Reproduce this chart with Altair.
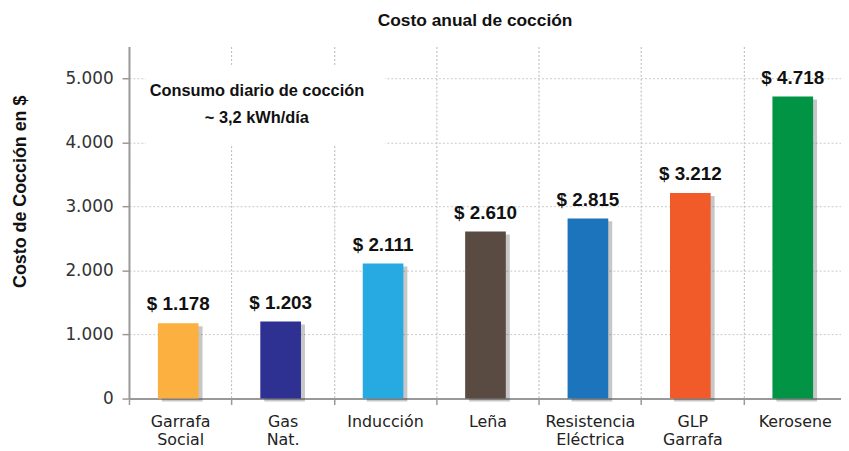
import altair as alt
import pandas as pd

categories = ["Garrafa|Social", "Gas|Nat.", "Inducción", "Leña", "Resistencia|Eléctrica", "GLP|Garrafa", "Kerosene"]
values = [1178, 1203, 2111, 2610, 2815, 3212, 4718]
colors = ["#FBB040", "#2E3192", "#27AAE1", "#594A42", "#1C75BC", "#F15A29", "#009444"]
y_ticks = [0, 1000, 2000, 3000, 4000, 5000]
note_lines = ["Consumo diario de cocción", "~ 3,2 kWh/día"]
note_y = [4800, 4380]

df = pd.DataFrame({"cat": categories, "val": values, "color": colors})
note_df = pd.DataFrame({"t": note_lines, "y": note_y})

BOLD = "Liberation Sans, Arial, sans-serif"
SANS = "DejaVu Sans, sans-serif"

x_enc = alt.X(
    "cat:N", sort=categories, title=None,
    scale=alt.Scale(paddingInner=0, paddingOuter=0, range=[0, 723]),
    axis=alt.Axis(
        labelExpr="split(datum.label, '|')", labelAngle=0, labelFont=SANS, labelFontSize=16,
        labelColor="#222", labelPadding=9, labelLineHeight=18,
        tickBand="extent", ticks=True, tickSize=6, tickColor="#999", tickWidth=1.5,
        grid=True, gridDash=[2, 2], gridColor="#b5b5b5", gridWidth=1,
        domainColor="#999", domainWidth=2,
    ),
)
y_scale = alt.Scale(domain=[0, 5500], nice=False)
y_enc = alt.Y(
    "val:Q", scale=y_scale, title="Costo de Cocción en $",
    axis=alt.Axis(
        values=y_ticks, labelExpr="replace(format(datum.value, ','), ',', '.')",
        labelFont=SANS, labelFontSize=17, labelColor="#333", labelPadding=9,
        tickSize=7, tickColor="#999", tickWidth=1.5,
        grid=True, gridDash=[2, 2], gridColor="#c8c8c8", gridWidth=1,
        domainColor="#999", domainWidth=2,
        titleFont=BOLD, titleFontSize=18, titleFontWeight="bold", titleColor="#111",
        titleX=-109, titleY=146, titleAngle=-90, titleAlign="center", titleBaseline="middle",
    ),
)

box = alt.Chart(pd.DataFrame({"a": [0]})).mark_rect(color="white").encode(
    x=alt.value(17), x2=alt.value(258),
    y=alt.datum(5190, scale=y_scale), y2=alt.datum(3975),
)

shadow = alt.Chart(df).mark_bar(size=41, color="#444", opacity=0.3, xOffset=2, yOffset=3).encode(
    x=x_enc, y=y_enc
)

bars = alt.Chart(df).mark_bar(size=41, xOffset=-2).encode(
    x=x_enc, y=y_enc, color=alt.Color("color:N", scale=None)
)

labels = alt.Chart(df).transform_calculate(
    lab="'$ ' + replace(format(datum.val, ','), ',', '.')"
).mark_text(font=BOLD, fontSize=19, fontWeight="bold",
            color="#111", baseline="bottom", dy=-9, dx=-2).encode(
    x=x_enc, y=y_enc, text="lab:N"
)

note = alt.Chart(note_df).mark_text(font=BOLD, fontSize=16.5, fontWeight="bold", color="#111",
                                    baseline="middle").encode(
    x=alt.value(129), y=alt.Y("y:Q", scale=y_scale), text="t:N"
)

chart = alt.layer(box, shadow, bars, labels, note).properties(
    width=718, height=355,
    title=alt.Title("Costo anual de cocción", font=BOLD, fontSize=17.5, fontWeight="bold",
                    color="#111", dx=-10, offset=17),
    autosize=alt.AutoSizeParams(type="none"),
    padding={"left": 122, "top": 37, "right": 0, "bottom": 50},
).configure_view(stroke=None)

chart.save("out.html", embed_options={"renderer": "svg", "actions": False})
